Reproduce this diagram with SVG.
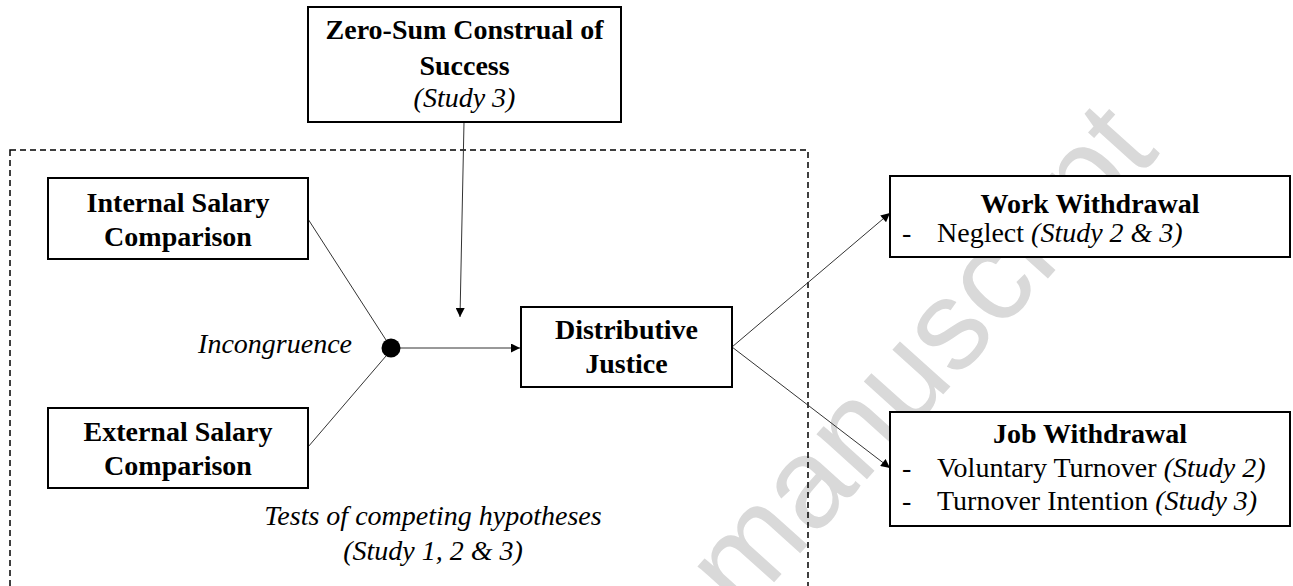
<svg xmlns="http://www.w3.org/2000/svg" width="1293" height="586" viewBox="0 0 1293 586">
<style>
.box{fill:#fff;stroke:#000;stroke-width:2}
.b{font-family:"Liberation Serif","Times New Roman",serif;font-weight:bold;font-size:28px;fill:#000}
.r{font-family:"Liberation Serif","Times New Roman",serif;font-size:28px;fill:#000}
.i{font-family:"Liberation Serif","Times New Roman",serif;font-style:italic;font-size:28px;fill:#000}
.c{text-anchor:middle}
.ln{stroke:#333;stroke-width:1;fill:none}
.wm{font-family:"Liberation Sans",Arial,sans-serif;font-size:128px;fill:#d9d9d9}
</style>
<defs>
<marker id="ah" viewBox="0 0 10 10" refX="10" refY="5" markerWidth="10" markerHeight="9" markerUnits="userSpaceOnUse" orient="auto">
<path d="M0,0 L10,5 L0,10 Z" fill="#000"/>
</marker>
</defs>
<rect width="1293" height="586" fill="#fff"/>
<text class="wm" transform="translate(742,618) rotate(-48)">manuscript</text>
<rect x="10" y="150" width="798" height="460" fill="none" stroke="#000" stroke-width="1.5" stroke-dasharray="6,4"/>
<g id="connectors">
<line class="ln" x1="464" y1="122" x2="460" y2="317" marker-end="url(#ah)"/>
<line class="ln" x1="308" y1="219" x2="386" y2="340"/>
<line class="ln" x1="308" y1="447" x2="386" y2="356"/>
<line class="ln" x1="400" y1="348" x2="520" y2="348" marker-end="url(#ah)"/>
<line class="ln" x1="732" y1="347" x2="890" y2="213" marker-end="url(#ah)"/>
<line class="ln" x1="732" y1="347" x2="890" y2="468" marker-end="url(#ah)"/>
</g>
<g id="zero-sum">
<rect class="box" x="308" y="7" width="313" height="115"/>
<text class="b c" x="464.5" y="39">Zero-Sum Construal of</text>
<text class="b c" x="464.5" y="75">Success</text>
<text class="i c" x="464.5" y="107">(Study 3)</text>
</g>
<g id="internal">
<rect class="box" x="48" y="178" width="260" height="81"/>
<text class="b c" x="178" y="212">Internal Salary</text>
<text class="b c" x="178" y="246">Comparison</text>
</g>
<g id="external">
<rect class="box" x="48" y="408" width="260" height="80"/>
<text class="b c" x="178" y="441">External Salary</text>
<text class="b c" x="178" y="475">Comparison</text>
</g>
<g id="incongruence">
<circle cx="391" cy="348" r="9.5" fill="#000"/>
<text class="i" x="352" y="353" text-anchor="end">Incongruence</text>
</g>
<g id="distributive">
<rect class="box" x="521" y="307" width="211" height="80"/>
<text class="b c" x="626.5" y="339">Distributive</text>
<text class="b c" x="626.5" y="373">Justice</text>
</g>
<g id="work">
<rect class="box" x="890" y="176" width="400" height="81"/>
<text class="b c" x="1090" y="213">Work Withdrawal</text>
<text class="r" x="902" y="242">-</text>
<text class="r" x="937" y="242">Neglect <tspan class="i">(Study 2 &amp; 3)</tspan></text>
</g>
<g id="job">
<rect class="box" x="890" y="412" width="400" height="114"/>
<text class="b c" x="1090" y="443">Job Withdrawal</text>
<text class="r" x="902" y="477">-</text>
<text class="r" x="937" y="477">Voluntary Turnover <tspan class="i">(Study 2)</tspan></text>
<text class="r" x="902" y="510">-</text>
<text class="r" x="937" y="510">Turnover Intention <tspan class="i">(Study 3)</tspan></text>
</g>
<g id="tests">
<text class="i c" x="433" y="525">Tests of competing hypotheses</text>
<text class="i c" x="433" y="560">(Study 1, 2 &amp; 3)</text>
</g>
</svg>
